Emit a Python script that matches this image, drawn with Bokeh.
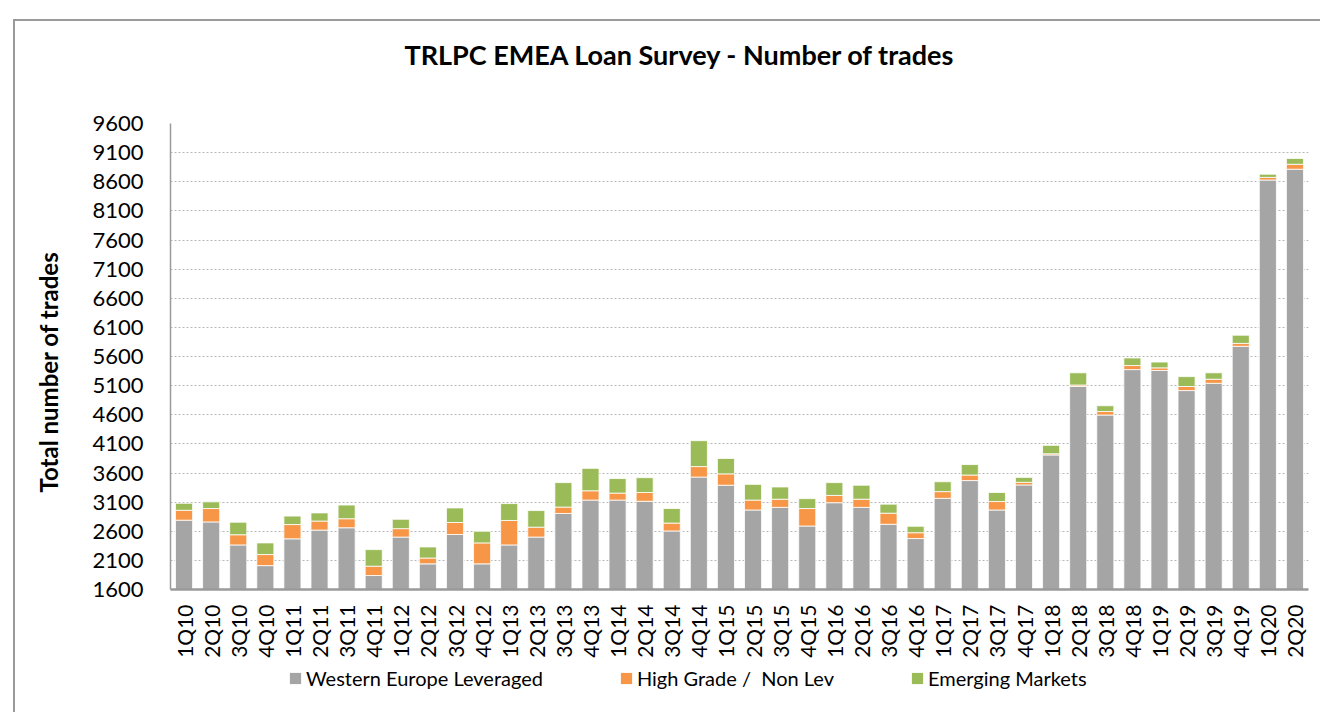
import math
from bokeh.plotting import figure
from bokeh.layouts import column
from bokeh.models import (FactorRange, Range1d, FixedTicker, Legend, LegendItem,
                          ColumnDataSource, Title)
from bokeh.embed import file_html
from bokeh.resources import INLINE

categories = ["1Q10", "2Q10", "3Q10", "4Q10", "1Q11", "2Q11", "3Q11", "4Q11",
              "1Q12", "2Q12", "3Q12", "4Q12", "1Q13", "2Q13", "3Q13", "4Q13",
              "1Q14", "2Q14", "3Q14", "4Q14", "1Q15", "2Q15", "3Q15", "4Q15",
              "1Q16", "2Q16", "3Q16", "4Q16", "1Q17", "2Q17", "3Q17", "4Q17",
              "1Q18", "2Q18", "3Q18", "4Q18", "1Q19", "2Q19", "3Q19", "4Q19",
              "1Q20", "2Q20"]

western_europe_leveraged = [2790, 2760, 2365, 2010, 2470, 2620, 2660, 1840,
                            2500, 2040, 2545, 2040, 2365, 2500, 2905, 3135,
                            3135, 3115, 2605, 3530, 3390, 2965, 3010, 2690,
                            3090, 3010, 2720, 2475, 3165, 3470, 2965, 3395,
                            3910, 5085, 4595, 5375, 5360, 5015, 5140, 5775,
                            8630, 8815]
high_grade_non_lev = [170, 230, 175, 190, 245, 155, 155, 160,
                      145, 100, 205, 360, 420, 170, 110, 160,
                      120, 150, 135, 180, 195, 170, 140, 300,
                      125, 140, 190, 100, 115, 95, 145, 45,
                      20, 25, 60, 70, 45, 70, 70, 50,
                      45, 85]
emerging_markets = [120, 115, 215, 200, 145, 140, 235, 285,
                    160, 190, 250, 200, 290, 285, 420, 385,
                    250, 255, 250, 445, 265, 270, 210, 170,
                    220, 240, 155, 110, 170, 180, 155, 85,
                    145, 210, 100, 130, 100, 170, 110, 140,
                    55, 100]

series_keys = ["we", "hg", "em"]
series_labels = ["Western Europe Leveraged", "High Grade /  Non Lev", "Emerging Markets"]
series_colors = ["#A5A5A5", "#F79646", "#9BBB59"]
y_ticks = [1600, 2100, 2600, 3100, 3600, 4100, 4600, 5100, 5600, 6100, 6600,
           7100, 7600, 8100, 8600, 9100, 9600]

FONT = "Lato"
W = 1320


def blank(fig):
    fig.outline_line_color = None
    fig.xgrid.grid_line_color = None
    fig.ygrid.grid_line_color = None
    fig.background_fill_color = "white"
    fig.border_fill_color = None


source = ColumnDataSource(data=dict(cat=categories, we=western_europe_leveraged,
                                    hg=high_grade_non_lev, em=emerging_markets))
x_range = FactorRange(*categories, range_padding=0)

# ---- header strip with the chart title
hf = figure(width=W, height=76, x_range=x_range, y_range=Range1d(0, 1),
            output_backend="svg", toolbar_location=None,
            x_axis_location=None, y_axis_location=None,
            min_border_left=170, min_border_right=12,
            min_border_top=75, min_border_bottom=0)
blank(hf)
hf.add_layout(Title(text="TRLPC EMEA Loan Survey - Number of trades",
                    align="left", offset=234, standoff=10,
                    text_font=FONT, text_font_size="27px", text_font_style="bold",
                    text_color="#000000"), "above")

# ---- main chart
p = figure(x_range=x_range, y_range=Range1d(1600, 9600),
           width=W, height=584,
           output_backend="svg", toolbar_location=None,
           min_border_left=170, min_border_right=12,
           min_border_top=47, min_border_bottom=70)

p.vbar_stack(series_keys, x="cat", width=0.63, source=source,
             color=series_colors, line_color="white", line_width=0.8)

p.outline_line_color = None
p.background_fill_color = "white"
p.border_fill_color = None

p.xgrid.grid_line_color = None
p.ygrid.grid_line_color = "#b8b8b8"
p.ygrid.grid_line_dash = "2 2"
p.ygrid.grid_line_width = 1
p.yaxis.ticker = FixedTicker(ticks=y_ticks)

p.yaxis.major_label_standoff = 21
p.yaxis.major_label_text_font = FONT
p.yaxis.major_label_text_font_size = "22px"
p.yaxis.major_label_text_color = "#000000"
p.yaxis.axis_line_color = "#9a9a9a"
p.yaxis.axis_line_width = 1.5
p.yaxis.major_tick_line_color = None
p.yaxis.minor_tick_line_color = None

p.add_layout(Title(text="Total number of trades", align="left", offset=97, standoff=54,
                   text_font=FONT, text_font_size="24px", text_font_style="bold",
                   text_color="#000000"), "left")

p.xaxis.major_label_orientation = math.pi / 2
p.xaxis.major_label_standoff = 9
p.xaxis.major_label_text_font = FONT
p.xaxis.major_label_text_font_size = "21px"
p.xaxis.major_label_text_color = "#000000"
p.xaxis.axis_line_color = "#9a9a9a"
p.xaxis.axis_line_width = 2.5
p.xaxis.major_tick_line_color = None
p.xaxis.minor_tick_line_color = None

# ---- legend strip below the chart (same series, drawn outside its visible range)
lf = figure(width=W, height=52, x_range=x_range, y_range=Range1d(20000, 20001),
            output_backend="svg", toolbar_location=None,
            x_axis_location=None, y_axis_location=None,
            min_border_left=170, min_border_right=12,
            min_border_top=0, min_border_bottom=0)
blank(lf)
lf.background_fill_color = None
legend_renderers = lf.vbar_stack(series_keys, x="cat", width=0.63, source=source,
                                 color=series_colors, line_color=None)

legend = Legend(items=[LegendItem(label=lab, renderers=[r])
                       for lab, r in zip(series_labels, legend_renderers)],
                orientation="horizontal", location=(118, 22))
legend.label_text_font = FONT
legend.label_text_font_size = "20px"
legend.label_text_color = "#000000"
legend.glyph_width = 14
legend.glyph_height = 14
legend.label_standoff = 4
legend.spacing = 76
legend.padding = 0
legend.margin = 0
legend.border_line_color = None
legend.background_fill_alpha = 0
lf.add_layout(legend)

frame_css = {
    "background-color": "white",
    "background-image": "linear-gradient(#9a9a9a, #9a9a9a), linear-gradient(#9a9a9a, #9a9a9a)",
    "background-size": "2px 100%, 100% 2px",
    "background-position": "13px 19px, 13px 19px",
    "background-repeat": "no-repeat",
}
layout = column(hf, p, lf, spacing=0, styles=frame_css)
open("out.html", "w").write(file_html(layout, INLINE))
